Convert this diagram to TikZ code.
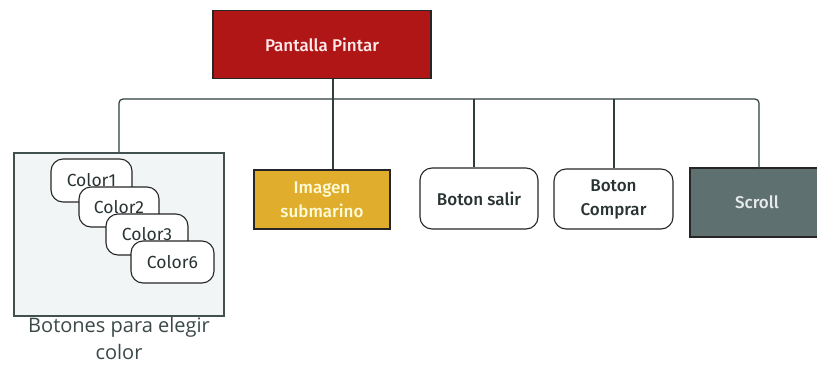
\documentclass[tikz,border=0pt]{standalone}
\usepackage{fontspec}
\setmainfont{Fira Sans}[UprightFont=* Medium]
\newfontfamily\chipfont{Fira Sans}
\newfontfamily\labelfont{Open Sans}
\definecolor{wire}{HTML}{2E3D3D}
\definecolor{rootred}{HTML}{B01616}
\definecolor{gold}{HTML}{E0AE2C}
\definecolor{slate}{HTML}{5E7070}
\definecolor{panel}{HTML}{F2F5F5}
\definecolor{captiongrey}{HTML}{3A4848}
\definecolor{ink}{HTML}{2A3333}
\tikzset{
  box/.style={draw=black!85, line width=1.1pt, inner sep=0pt, align=center,
    text=ink, font=\fontsize{17}{24}\selectfont},
  roundbox/.style={box, fill=white, rounded corners=12pt},
  chip/.style={box, fill=white, rounded corners=12pt, font=\chipfont\fontsize{17.5}{20}\selectfont},
  wireline/.style={draw=wire, line width=1.2pt},
}
\begin{document}
\begin{tikzpicture}[x=1pt,y=-1pt]
  \useasboundingbox (0,0) rectangle (817,370);
  \begin{scope}
  \clip (0,0) rectangle (817,370);

  % root
  \node[box, fill=rootred, text=white!92!red, minimum width=218pt, minimum height=68pt]
    (root) at (322,44.5) {Pantalla Pintar};

  % colour button group
  \node[draw=wire!90, line width=1.6pt, fill=panel, minimum width=210pt, minimum height=163pt]
    (grp) at (119,234.5) {};
  \node[chip, minimum width=81pt, minimum height=43pt] (c1) at (91.5,180.5) {Color1};
  \node[chip, minimum width=80pt, minimum height=40pt] (c2) at (119,207) {Color2};
  \node[chip, minimum width=82pt, minimum height=41pt] (c3) at (147,234.5) {Color3};
  \node[chip, minimum width=83pt, minimum height=42pt] (c6) at (172.5,262) {Color6};
  \node[font=\labelfont\fontsize{20}{27}\selectfont, text=captiongrey, align=center, anchor=north]
    (cap) at (119,314) {Botones para elegir\\color};

  % children
  \node[box, fill=gold, text=white!85!yellow, minimum width=136pt, minimum height=59pt]
    (img) at (322,199.5) {Imagen\\submarino};
  \node[roundbox, minimum width=118pt, minimum height=61pt] (salir) at (479,198.5) {Boton salir};
  \node[roundbox, minimum width=119pt, minimum height=60pt] (comprar) at (613.5,199) {Boton\\Comprar};
  \node[box, fill=slate, text=white!85!slate, minimum width=134pt, minimum height=69pt]
    (scroll) at (757,202.5) {Scroll};

  % connectors
  \coordinate (bus) at (333,99);
  \coordinate (scrolltop) at (759,168.5);
  \draw[wireline] (root.south -| bus) -- (bus);
  \draw[wireline, rounded corners=4pt] (grp.north) |- (bus) -| (scrolltop);
  \draw[wireline] (bus) -- (img.north -| bus);
  \draw[wireline] (474,99) -- (salir.north -| 474,0);
  \draw[wireline] (614,99) -- (comprar.north -| 614,0);
  \end{scope}
\end{tikzpicture}
\end{document}
